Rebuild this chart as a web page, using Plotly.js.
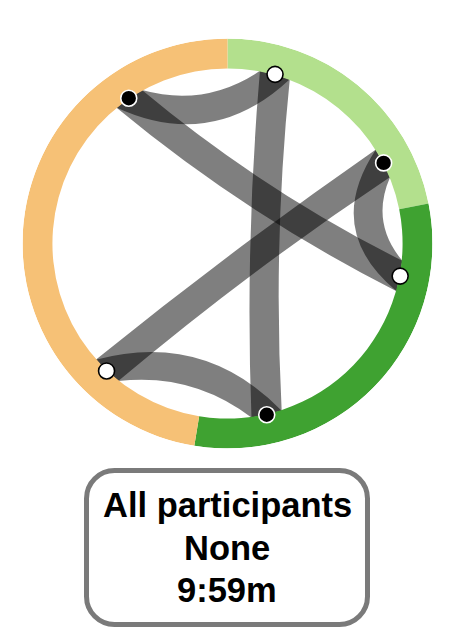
<!DOCTYPE html>
<html><head><meta charset="utf-8">
<script src="https://cdn.plot.ly/plotly-3.0.1.min.js"></script>
<style>html,body{margin:0;padding:0;background:#fff;overflow:hidden;}</style>
</head><body><div id="chart" style="width:462px;height:638px;"></div>
<script>
// ---------------- data ----------------
const segmentNames = ['Phase 1', 'Phase 2', 'Phase 3'];
const segmentSeconds = [131, 184, 284];           // total 599 s = 9:59m
const segmentColors = ['#b3e08d', '#3fa231', '#f6c176'];
const nodeAngles = [15.7, 62.7, 100.7, 167.1, 223.5, 325.8]; // degrees clockwise from top
const nodeFilled = [false, true, false, true, false, true];
const linkSource = [0, 5, 0, 1, 1, 4];
const linkTarget = [5, 2, 3, 2, 4, 3];
const boxLines = ['All participants', 'None', '9:59m'];

// ---------------- layout geometry (pixels) ----------------
const W = 462, H = 638;
const CX = 227.5, CY = 243.5, R = 205;
const nodeR = 175.7 / R;
const ringInner = 0.854;
const bandHalf = 14.5 / R;
const endHalfDeg = Math.asin(15.5 / 175.7) * 180 / Math.PI;
const bend = 0.28;

function pos(deg, r) {
  const t = deg * Math.PI / 180;
  return [r * Math.sin(t), r * Math.cos(t)];
}
function f(v) { return v.toFixed(5); }

function ribbonPath(ta, tb) {
  let d = ((tb - ta) % 360 + 360) % 360;
  if (d > 180) { const tmp = ta; ta = tb; tb = tmp; }
  const A0 = pos(ta, nodeR), B0 = pos(tb, nodeR);
  const mid = [(A0[0] + B0[0]) / 2, (A0[1] + B0[1]) / 2];
  const C = [mid[0] * (1 - bend), mid[1] * (1 - bend)];
  const M = [0.5 * mid[0] + 0.5 * C[0], 0.5 * mid[1] + 0.5 * C[1]];
  const dx = B0[0] - A0[0], dy = B0[1] - A0[1];
  const L = Math.hypot(dx, dy);
  let n = [-dy / L, dx / L];
  const a1 = pos(ta - endHalfDeg, nodeR), a2 = pos(ta + endHalfDeg, nodeR);
  const b1 = pos(tb - endHalfDeg, nodeR), b2 = pos(tb + endHalfDeg, nodeR);
  const inner = [(a2[0] + b1[0]) / 2, (a2[1] + b1[1]) / 2];
  const outer = [(b2[0] + a1[0]) / 2, (b2[1] + a1[1]) / 2];
  if ((inner[0] - outer[0]) * n[0] + (inner[1] - outer[1]) * n[1] < 0) n = [-n[0], -n[1]];
  function ctrl(P, Q, s) {
    const pm = [(P[0] + Q[0]) / 2, (P[1] + Q[1]) / 2];
    const T = [M[0] + s * bandHalf * n[0], M[1] + s * bandHalf * n[1]];
    return [2 * T[0] - pm[0], 2 * T[1] - pm[1]];
  }
  const c1 = ctrl(a2, b1, 1), c2 = ctrl(b2, a1, -1);
  return 'M' + f(a1[0]) + ',' + f(a1[1]) +
    ' L' + f(a2[0]) + ',' + f(a2[1]) +
    ' Q' + f(c1[0]) + ',' + f(c1[1]) + ' ' + f(b1[0]) + ',' + f(b1[1]) +
    ' L' + f(b2[0]) + ',' + f(b2[1]) +
    ' Q' + f(c2[0]) + ',' + f(c2[1]) + ' ' + f(a1[0]) + ',' + f(a1[1]) + ' Z';
}

const shapes = [];
for (let i = 0; i < linkSource.length; i++) {
  shapes.push({
    type: 'path', xref: 'x', yref: 'y', layer: 'below',
    path: ribbonPath(nodeAngles[linkSource[i]], nodeAngles[linkTarget[i]]),
    fillcolor: 'rgba(0,0,0,0.5)', line: { width: 0 }
  });
}

// rounded box (pixel → paper)
function rrect(x0, y0, x1, y1, r) {
  const k = 0.5523 * r;
  const px = x => f(x / W), py = y => f(1 - y / H);
  const P = (x, y) => px(x) + ',' + py(y);
  return 'M' + P(x0 + r, y0) + ' L' + P(x1 - r, y0) +
    ' C' + P(x1 - r + k, y0) + ' ' + P(x1, y0 + r - k) + ' ' + P(x1, y0 + r) +
    ' L' + P(x1, y1 - r) +
    ' C' + P(x1, y1 - r + k) + ' ' + P(x1 - r + k, y1) + ' ' + P(x1 - r, y1) +
    ' L' + P(x0 + r, y1) +
    ' C' + P(x0 + r - k, y1) + ' ' + P(x0, y1 - r + k) + ' ' + P(x0, y1 - r) +
    ' L' + P(x0, y0 + r) +
    ' C' + P(x0, y0 + r - k) + ' ' + P(x0 + r - k, y0) + ' ' + P(x0 + r, y0) + ' Z';
}
shapes.push({
  type: 'path', xref: 'paper', yref: 'paper', layer: 'above',
  path: rrect(86.5, 470.5, 367.5, 624.5, 28),
  fillcolor: 'rgba(0,0,0,0)', line: { color: 'rgb(122,122,122)', width: 5 }
});

const lineY = [505, 548, 590];
const annotations = boxLines.map((t, i) => ({
  text: t, xref: 'paper', yref: 'paper', x: 227 / W, y: 1 - lineY[i] / H,
  xanchor: 'center', yanchor: 'middle', showarrow: false,
  font: { family: 'Liberation Sans, Arial, Helvetica, sans-serif', size: 34.5, color: '#000', weight: 700 }
}));

const domX = [(CX - R) / W, (CX + R) / W];
const domY = [1 - (CY + R) / H, 1 - (CY - R) / H];

// ring segments from durations
const total = segmentSeconds.reduce((a, b) => a + b, 0);
const segWidth = segmentSeconds.map(v => v / total * 360);
const segTheta = [];
let acc = 0;
segWidth.forEach(w => { segTheta.push(acc + w / 2); acc += w; });

const ring = {
  type: 'barpolar', theta: segTheta, width: segWidth,
  r: segmentSeconds.map(() => 1 - ringInner), base: segmentSeconds.map(() => ringInner),
  text: segmentNames, marker: { color: segmentColors, line: { width: 0 } },
  hoverinfo: 'skip', showlegend: false, subplot: 'polar'
};

function nodeTrace(filled) {
  const th = [];
  nodeAngles.forEach((a, i) => { if (nodeFilled[i] === filled) th.push(a); });
  return {
    type: 'scatterpolar', mode: 'markers', theta: th, r: th.map(() => nodeR),
    hoverinfo: 'skip', showlegend: false, subplot: 'polar', cliponaxis: false,
    marker: { size: 16, color: filled ? '#000' : '#fff', line: { color: filled ? '#fff' : '#000', width: 1.6 } }
  };
}

const anchor = { type: 'scatter', x: [], y: [], hoverinfo: 'skip', showlegend: false };

const layout = {
  width: W, height: H, margin: { l: 0, r: 0, t: 0, b: 0 },
  paper_bgcolor: '#fff', plot_bgcolor: 'rgba(0,0,0,0)',
  showlegend: false,
  xaxis: { domain: domX, range: [-1, 1], visible: false, fixedrange: true },
  yaxis: { domain: domY, range: [-1, 1], visible: false, fixedrange: true },
  polar: {
    domain: { x: domX, y: domY }, bgcolor: 'rgba(0,0,0,0)', hole: 0,
    radialaxis: { range: [0, 1], visible: false, showgrid: false, showline: false, ticks: '' },
    angularaxis: { rotation: 90, direction: 'clockwise', visible: false, showgrid: false, showline: false, ticks: '' }
  },
  shapes: shapes, annotations: annotations
};

Plotly.newPlot('chart', [anchor, ring, nodeTrace(false), nodeTrace(true)], layout, { displayModeBar: false, staticPlot: true });
</script>
</body></html>
